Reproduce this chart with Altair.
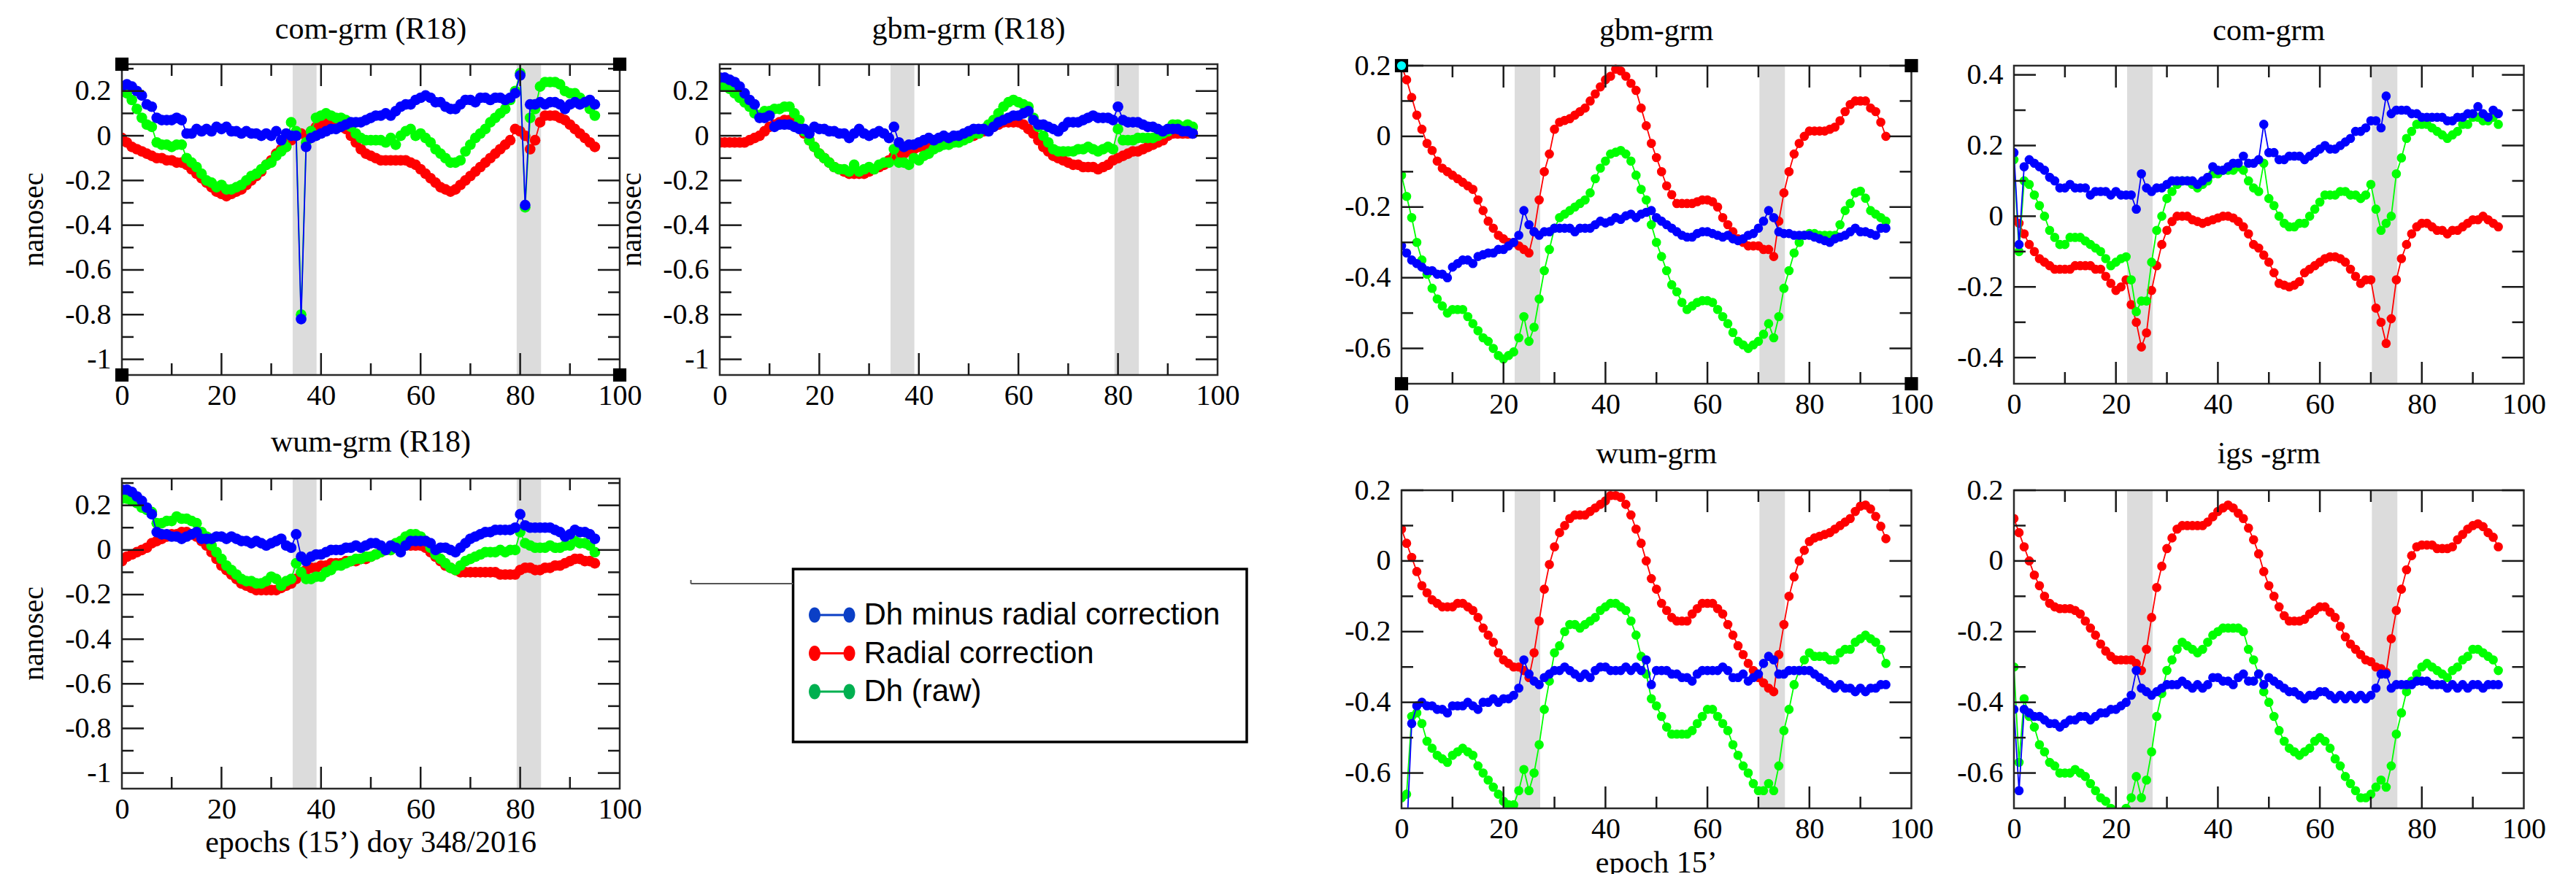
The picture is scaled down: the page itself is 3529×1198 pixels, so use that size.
import altair as alt
import pandas as pd

SERIF = "Liberation Serif, Times New Roman, serif"
SANS = "Liberation Sans, Arial, sans-serif"

EPOCH = list(range(96))

# ---------------- left figure (R18) ----------------
P1_BLUE = [0.22, 0.23, 0.22, 0.20, 0.18, 0.14, 0.13, 0.08, 0.07, 0.07,
           0.07, 0.08, 0.07, 0.01, 0.01, 0.03, 0.02, 0.03, 0.02, 0.04,
           0.03, 0.04, 0.02, 0.02, 0.01, 0.02, 0.01, 0.01, 0.00, 0.01,
           0.00, 0.02, -0.02, 0.01, 0.00, 0.00, -0.82, -0.05, -0.01, 0.00,
           0.01, 0.02, 0.03, 0.03, 0.04, 0.05, 0.06, 0.06, 0.06, 0.07,
           0.08, 0.09, 0.09, 0.10, 0.09, 0.11, 0.13, 0.14, 0.14, 0.16,
           0.17, 0.18, 0.17, 0.15, 0.15, 0.13, 0.12, 0.12, 0.14, 0.16,
           0.16, 0.15, 0.17, 0.17, 0.16, 0.17, 0.17, 0.16, 0.17, 0.19,
           0.27, -0.31, 0.14, 0.14, 0.15, 0.14, 0.15, 0.15, 0.14, 0.12,
           0.14, 0.15, 0.14, 0.15, 0.16, 0.14]
P1_RED = [-0.01, -0.03, -0.05, -0.06, -0.07, -0.08, -0.09, -0.10, -0.10, -0.11,
          -0.11, -0.12, -0.12, -0.13, -0.15, -0.17, -0.19, -0.21, -0.23, -0.25,
          -0.26, -0.27, -0.26, -0.25, -0.24, -0.22, -0.20, -0.18, -0.16, -0.13,
          -0.11, -0.08, -0.06, -0.05, -0.02, 0.00, 0.01, 0.00, 0.02, 0.04,
          0.05, 0.06, 0.06, 0.05, 0.04, 0.03, 0.00, -0.03, -0.06, -0.08,
          -0.09, -0.10, -0.11, -0.11, -0.11, -0.11, -0.11, -0.11, -0.12, -0.13,
          -0.15, -0.17, -0.19, -0.21, -0.23, -0.24, -0.25, -0.24, -0.22, -0.20,
          -0.18, -0.16, -0.14, -0.12, -0.10, -0.08, -0.06, -0.04, -0.02, 0.03,
          0.02, 0.00, -0.06, -0.02, 0.06, 0.09, 0.09, 0.09, 0.08, 0.07,
          0.05, 0.03, 0.01, -0.01, -0.03, -0.05]
P1_GREEN = [0.21, 0.19, 0.16, 0.12, 0.08, 0.05, 0.04, -0.03, -0.04, -0.04,
            -0.05, -0.04, -0.04, -0.10, -0.12, -0.14, -0.17, -0.20, -0.21, -0.23,
            -0.22, -0.24, -0.24, -0.23, -0.22, -0.20, -0.18, -0.17, -0.15, -0.13,
            -0.12, -0.09, -0.07, -0.05, 0.06, 0.02, -0.80, -0.03, 0.02, 0.08,
            0.09, 0.10, 0.09, 0.08, 0.08, 0.07, 0.04, 0.01, -0.01, -0.02,
            -0.02, -0.02, -0.02, -0.03, -0.01, -0.04, 0.00, 0.02, 0.03, 0.00,
            0.01, -0.01, -0.03, -0.06, -0.08, -0.10, -0.12, -0.12, -0.11, -0.07,
            -0.04, -0.01, 0.01, 0.03, 0.06, 0.08, 0.10, 0.12, 0.16, 0.20,
            0.28, -0.32, 0.08, 0.12, 0.22, 0.24, 0.24, 0.24, 0.23, 0.20,
            0.19, 0.19, 0.17, 0.15, 0.12, 0.09]

P2_BLUE = [0.26, 0.26, 0.25, 0.24, 0.22, 0.19, 0.16, 0.14, 0.08, 0.08,
           0.09, 0.04, 0.05, 0.05, 0.05, 0.04, 0.03, 0.03, 0.01, 0.04,
           0.03, 0.03, 0.02, 0.02, 0.01, 0.01, -0.01, 0.01, 0.03, 0.01,
           0.00, 0.01, 0.02, 0.01, -0.01, 0.04, -0.03, -0.05, -0.04, -0.04,
           -0.03, -0.02, -0.01, -0.02, -0.01, 0.00, -0.01, 0.00, 0.00, 0.01,
           0.02, 0.03, 0.03, 0.03, 0.02, 0.04, 0.06, 0.07, 0.08, 0.09,
           0.09, 0.10, 0.11, 0.07, 0.05, 0.05, 0.04, 0.03, 0.02, 0.04,
           0.06, 0.06, 0.06, 0.07, 0.08, 0.09, 0.08, 0.08, 0.08, 0.07,
           0.13, 0.07, 0.06, 0.06, 0.06, 0.05, 0.04, 0.04, 0.03, 0.02,
           0.03, 0.03, 0.03, 0.02, 0.02, 0.01]
P2_RED = [-0.03, -0.03, -0.03, -0.03, -0.03, -0.03, -0.02, -0.01, 0.00, 0.02,
          0.04, 0.05, 0.06, 0.07, 0.07, 0.06, 0.04, 0.01, -0.02, -0.05,
          -0.08, -0.10, -0.12, -0.14, -0.15, -0.16, -0.17, -0.17, -0.17, -0.17,
          -0.16, -0.15, -0.14, -0.13, -0.11, -0.09, -0.08, -0.08, -0.07, -0.06,
          -0.05, -0.05, -0.04, -0.04, -0.03, -0.03, -0.02, -0.02, -0.01, -0.01,
          0.00, 0.00, 0.01, 0.02, 0.03, 0.04, 0.05, 0.06, 0.06, 0.06,
          0.06, 0.05, 0.03, 0.01, -0.02, -0.05, -0.07, -0.09, -0.10, -0.11,
          -0.12, -0.13, -0.13, -0.14, -0.14, -0.14, -0.15, -0.14, -0.13, -0.11,
          -0.10, -0.09, -0.08, -0.07, -0.07, -0.06, -0.05, -0.04, -0.03, -0.02,
          0.00, 0.01, 0.01, 0.01, 0.01, 0.01]
P2_GREEN = [0.22, 0.22, 0.21, 0.19, 0.17, 0.15, 0.13, 0.10, 0.09, 0.11,
            0.11, 0.12, 0.12, 0.13, 0.13, 0.10, 0.07, 0.02, -0.02, -0.05,
            -0.08, -0.10, -0.12, -0.14, -0.15, -0.15, -0.16, -0.13, -0.16, -0.15,
            -0.14, -0.15, -0.13, -0.12, -0.12, -0.06, -0.12, -0.12, -0.13, -0.10,
            -0.11, -0.09, -0.08, -0.06, -0.05, -0.04, -0.04, -0.03, -0.03, -0.02,
            -0.01, 0.01, 0.01, 0.03, 0.05, 0.07, 0.10, 0.13, 0.15, 0.16,
            0.15, 0.14, 0.13, 0.08, 0.04, 0.00, -0.03, -0.06, -0.07, -0.07,
            -0.07, -0.07, -0.06, -0.06, -0.05, -0.06, -0.07, -0.06, -0.05, -0.06,
            0.03, -0.02, -0.02, -0.02, -0.01, -0.01, -0.01, -0.01, 0.00, 0.01,
            0.02, 0.05, 0.05, 0.04, 0.05, 0.04]

P3_BLUE = [0.27, 0.27, 0.26, 0.24, 0.22, 0.19, 0.16, 0.08, 0.07, 0.07,
           0.06, 0.06, 0.05, 0.06, 0.07, 0.08, 0.05, 0.05, 0.05, 0.06,
           0.06, 0.05, 0.06, 0.05, 0.04, 0.04, 0.03, 0.04, 0.03, 0.02,
           0.03, 0.04, 0.05, 0.02, 0.01, 0.07, -0.03, -0.05, -0.03, -0.02,
           -0.02, -0.01, 0.00, 0.00, 0.00, 0.01, 0.01, 0.02, 0.01, 0.02,
           0.03, 0.03, 0.02, 0.00, 0.02, 0.01, -0.01, 0.02, 0.04, 0.04,
           0.04, 0.04, 0.03, 0.00, 0.01, 0.01, 0.00, -0.01, 0.01, 0.03,
           0.05, 0.06, 0.07, 0.08, 0.08, 0.09, 0.09, 0.09, 0.09, 0.10,
           0.16, 0.11, 0.10, 0.10, 0.10, 0.10, 0.10, 0.09, 0.08, 0.06,
           0.07, 0.09, 0.08, 0.08, 0.07, 0.05]
P3_RED = [-0.05, -0.03, -0.02, -0.01, 0.00, 0.01, 0.03, 0.04, 0.05, 0.06,
          0.07, 0.07, 0.08, 0.08, 0.07, 0.06, 0.04, 0.02, -0.01, -0.04,
          -0.07, -0.09, -0.11, -0.13, -0.15, -0.16, -0.17, -0.18, -0.18, -0.18,
          -0.18, -0.18, -0.17, -0.16, -0.15, -0.13, -0.11, -0.09, -0.08, -0.08,
          -0.07, -0.07, -0.06, -0.06, -0.06, -0.05, -0.05, -0.05, -0.04, -0.04,
          -0.03, -0.02, -0.01, 0.00, 0.00, 0.01, 0.01, 0.02, 0.02, 0.02,
          0.02, 0.01, -0.01, -0.03, -0.05, -0.07, -0.08, -0.09, -0.10, -0.10,
          -0.10, -0.10, -0.10, -0.10, -0.10, -0.10, -0.11, -0.11, -0.11, -0.11,
          -0.09, -0.08, -0.08, -0.09, -0.09, -0.08, -0.08, -0.07, -0.07, -0.06,
          -0.05, -0.04, -0.04, -0.05, -0.05, -0.06]
P3_GREEN = [0.23, 0.23, 0.22, 0.21, 0.19, 0.18, 0.17, 0.12, 0.12, 0.13,
            0.13, 0.15, 0.14, 0.14, 0.13, 0.12, 0.08, 0.06, 0.02, -0.01,
            -0.04, -0.07, -0.09, -0.11, -0.13, -0.14, -0.14, -0.15, -0.15, -0.14,
            -0.12, -0.13, -0.16, -0.14, -0.13, -0.06, -0.10, -0.13, -0.13, -0.12,
            -0.12, -0.10, -0.09, -0.07, -0.07, -0.06, -0.05, -0.04, -0.04, -0.03,
            -0.03, -0.02, -0.01, 0.00, 0.00, 0.03, 0.04, 0.06, 0.07, 0.07,
            0.06, 0.04, 0.01, -0.02, -0.04, -0.06, -0.08, -0.09, -0.07, -0.05,
            -0.04, -0.03, -0.02, -0.01, -0.01, -0.01, 0.00, -0.01, 0.00, 0.00,
            0.08, 0.03, 0.02, 0.01, 0.01, 0.01, 0.02, 0.01, 0.01, 0.02,
            0.02, 0.04, 0.03, 0.03, 0.02, -0.01]

# ---------------- right figure ----------------
P4_BLUE = [-0.31, -0.33, -0.35, -0.36, -0.37, -0.38, -0.38, -0.39, -0.39, -0.40,
           -0.37, -0.36, -0.35, -0.35, -0.36, -0.34, -0.335, -0.33, -0.33, -0.32,
           -0.32, -0.31, -0.30, -0.28, -0.21, -0.25, -0.27, -0.28, -0.27, -0.27,
           -0.26, -0.26, -0.26, -0.26, -0.27, -0.26, -0.26, -0.26, -0.25, -0.24,
           -0.245, -0.24, -0.23, -0.235, -0.225, -0.22, -0.23, -0.22, -0.215, -0.21,
           -0.23, -0.24, -0.25, -0.26, -0.27, -0.28, -0.285, -0.285, -0.275, -0.27,
           -0.27, -0.275, -0.28, -0.285, -0.28, -0.29, -0.295, -0.29, -0.28, -0.275,
           -0.26, -0.24, -0.21, -0.23, -0.27, -0.275, -0.275, -0.28, -0.28, -0.28,
           -0.28, -0.285, -0.29, -0.295, -0.30, -0.29, -0.285, -0.28, -0.27, -0.26,
           -0.27, -0.27, -0.275, -0.28, -0.26, -0.26]
P4_RED = [0.20, 0.16, 0.11, 0.06, 0.02, -0.02, -0.04, -0.07, -0.09, -0.10,
          -0.11, -0.12, -0.13, -0.14, -0.15, -0.18, -0.21, -0.24, -0.26, -0.28,
          -0.29, -0.30, -0.30, -0.31, -0.32, -0.33, -0.27, -0.18, -0.10, -0.05,
          0.02, 0.04, 0.045, 0.05, 0.06, 0.07, 0.08, 0.10, 0.12, 0.14,
          0.16, 0.17, 0.19, 0.185, 0.17, 0.15, 0.13, 0.08, 0.03, -0.02,
          -0.06, -0.10, -0.14, -0.165, -0.19, -0.19, -0.19, -0.19, -0.185, -0.18,
          -0.18, -0.185, -0.20, -0.23, -0.25, -0.27, -0.29, -0.30, -0.31, -0.31,
          -0.31, -0.32, -0.32, -0.34, -0.24, -0.16, -0.10, -0.05, -0.02, 0.00,
          0.015, 0.015, 0.015, 0.015, 0.02, 0.026, 0.044, 0.07, 0.09, 0.10,
          0.10, 0.10, 0.08, 0.07, 0.04, 0.00]
P4_GREEN = [-0.11, -0.17, -0.23, -0.30, -0.35, -0.39, -0.43, -0.46, -0.48, -0.50,
            -0.49, -0.49, -0.49, -0.51, -0.53, -0.55, -0.57, -0.58, -0.60, -0.62,
            -0.63, -0.62, -0.61, -0.57, -0.51, -0.58, -0.54, -0.46, -0.38, -0.32,
            -0.26, -0.23, -0.22, -0.21, -0.20, -0.19, -0.18, -0.16, -0.12, -0.09,
            -0.07, -0.05, -0.045, -0.04, -0.05, -0.07, -0.11, -0.15, -0.18, -0.25,
            -0.30, -0.34, -0.38, -0.42, -0.44, -0.47, -0.49, -0.48, -0.47, -0.465,
            -0.465, -0.47, -0.49, -0.51, -0.53, -0.555, -0.58, -0.59, -0.60, -0.59,
            -0.58, -0.56, -0.53, -0.57, -0.51, -0.43, -0.38, -0.33, -0.30, -0.28,
            -0.275, -0.275, -0.28, -0.28, -0.28, -0.28, -0.25, -0.21, -0.19, -0.16,
            -0.155, -0.175, -0.21, -0.22, -0.23, -0.24]

P5_BLUE = [0.18, -0.08, 0.14, 0.16, 0.15, 0.14, 0.13, 0.11, 0.10, 0.08,
           0.08, 0.09, 0.08, 0.08, 0.08, 0.06, 0.07, 0.07, 0.07, 0.06,
           0.07, 0.06, 0.06, 0.06, 0.02, 0.12, 0.08, 0.07, 0.08, 0.08,
           0.09, 0.10, 0.10, 0.10, 0.10, 0.10, 0.09, 0.10, 0.11, 0.14,
           0.13, 0.13, 0.14, 0.15, 0.15, 0.17, 0.15, 0.15, 0.16, 0.26,
           0.18, 0.18, 0.16, 0.16, 0.17, 0.17, 0.17, 0.16, 0.17, 0.18,
           0.19, 0.20, 0.19, 0.19, 0.20, 0.21, 0.22, 0.24, 0.24, 0.25,
           0.27, 0.27, 0.25, 0.34, 0.29, 0.30, 0.30, 0.30, 0.29, 0.29,
           0.28, 0.28, 0.28, 0.28, 0.28, 0.27, 0.27, 0.28, 0.28, 0.29,
           0.29, 0.31, 0.29, 0.28, 0.30, 0.29]
P5_RED = [-0.01, -0.02, -0.05, -0.08, -0.10, -0.12, -0.13, -0.14, -0.15, -0.15,
          -0.15, -0.15, -0.14, -0.14, -0.14, -0.14, -0.15, -0.15, -0.17, -0.19,
          -0.21, -0.20, -0.18, -0.25, -0.30, -0.37, -0.33, -0.21, -0.14, -0.08,
          -0.04, -0.015, 0.00, 0.00, 0.00, -0.01, -0.015, -0.02, -0.015, -0.01,
          -0.005, 0.00, 0.00, -0.005, -0.015, -0.03, -0.05, -0.08, -0.09, -0.11,
          -0.13, -0.16, -0.19, -0.195, -0.20, -0.195, -0.185, -0.16, -0.15, -0.14,
          -0.13, -0.12, -0.115, -0.115, -0.12, -0.13, -0.15, -0.17, -0.19, -0.18,
          -0.18, -0.26, -0.30, -0.36, -0.29, -0.18, -0.12, -0.08, -0.05, -0.03,
          -0.02, -0.02, -0.03, -0.04, -0.04, -0.05, -0.04, -0.04, -0.03, -0.02,
          -0.01, -0.01, 0.00, -0.01, -0.02, -0.03]
P5_GREEN = [0.16, -0.10, 0.10, 0.09, 0.06, 0.03, 0.00, -0.04, -0.06, -0.08,
            -0.08, -0.06, -0.06, -0.06, -0.07, -0.08, -0.09, -0.10, -0.12, -0.14,
            -0.13, -0.12, -0.115, -0.18, -0.27, -0.24, -0.24, -0.13, -0.04, 0.00,
            0.05, 0.07, 0.09, 0.10, 0.10, 0.09, 0.08, 0.09, 0.10, 0.12,
            0.12, 0.13, 0.13, 0.13, 0.14, 0.13, 0.10, 0.08, 0.07, 0.15,
            0.05, 0.03, 0.00, -0.02, -0.03, -0.03, -0.02, -0.02, 0.00, 0.02,
            0.04, 0.06, 0.06, 0.06, 0.07, 0.07, 0.06, 0.06, 0.05, 0.06,
            0.09, 0.02, -0.04, -0.02, 0.00, 0.12, 0.165, 0.22, 0.24, 0.26,
            0.26, 0.26, 0.25, 0.24, 0.23, 0.22, 0.23, 0.24, 0.26, 0.26,
            0.28, 0.28, 0.27, 0.27, 0.28, 0.26]

P6_BLUE = [-0.80, -0.78, -0.46, -0.41, -0.40, -0.41, -0.41, -0.42, -0.42, -0.43,
           -0.41, -0.41, -0.41, -0.40, -0.41, -0.42, -0.40, -0.40, -0.39, -0.40,
           -0.39, -0.39, -0.38, -0.36, -0.28, -0.32, -0.34, -0.35, -0.33, -0.32,
           -0.31, -0.31, -0.30, -0.31, -0.32, -0.33, -0.32, -0.33, -0.31, -0.30,
           -0.30, -0.31, -0.31, -0.31, -0.30, -0.31, -0.30, -0.31, -0.28, -0.35,
           -0.31, -0.31, -0.31, -0.32, -0.32, -0.33, -0.33, -0.34, -0.32, -0.31,
           -0.31, -0.31, -0.31, -0.30, -0.31, -0.33, -0.33, -0.32, -0.34, -0.33,
           -0.32, -0.29, -0.27, -0.28, -0.32, -0.32, -0.31, -0.31, -0.31, -0.31,
           -0.31, -0.32, -0.33, -0.34, -0.35, -0.36, -0.35, -0.36, -0.36, -0.37,
           -0.36, -0.37, -0.36, -0.36, -0.35, -0.35]
P6_RED = [0.09, 0.05, 0.01, -0.03, -0.07, -0.09, -0.11, -0.12, -0.13, -0.13,
          -0.13, -0.12, -0.12, -0.13, -0.14, -0.16, -0.19, -0.21, -0.23, -0.26,
          -0.28, -0.29, -0.30, -0.30, -0.31, -0.33, -0.26, -0.17, -0.08, -0.01,
          0.04, 0.08, 0.10, 0.12, 0.13, 0.13, 0.13, 0.14, 0.15, 0.16,
          0.17, 0.185, 0.185, 0.18, 0.16, 0.13, 0.09, 0.05, 0.00, -0.05,
          -0.08, -0.12, -0.14, -0.16, -0.17, -0.17, -0.17, -0.15, -0.135, -0.12,
          -0.12, -0.12, -0.135, -0.15, -0.18, -0.21, -0.24, -0.265, -0.29, -0.31,
          -0.33, -0.345, -0.36, -0.37, -0.265, -0.18, -0.10, -0.045, 0.00, 0.03,
          0.055, 0.065, 0.07, 0.075, 0.08, 0.09, 0.10, 0.11, 0.12, 0.14,
          0.155, 0.158, 0.147, 0.126, 0.098, 0.063]
P6_GREEN = [-0.67, -0.66, -0.44, -0.43, -0.46, -0.51, -0.53, -0.55, -0.56, -0.57,
            -0.55, -0.54, -0.53, -0.54, -0.55, -0.58, -0.60, -0.62, -0.64, -0.66,
            -0.68, -0.69, -0.69, -0.65, -0.59, -0.65, -0.60, -0.52, -0.42, -0.34,
            -0.26, -0.24, -0.20, -0.18, -0.18, -0.19, -0.18, -0.17, -0.16, -0.14,
            -0.13, -0.12, -0.12, -0.13, -0.14, -0.17, -0.21, -0.27, -0.32, -0.39,
            -0.41, -0.44, -0.47, -0.49, -0.49, -0.49, -0.49, -0.48, -0.46, -0.44,
            -0.42, -0.42, -0.44, -0.46, -0.48, -0.52, -0.55, -0.58, -0.60, -0.63,
            -0.65, -0.65, -0.63, -0.65, -0.58, -0.48, -0.42, -0.35, -0.31, -0.28,
            -0.26, -0.27, -0.27, -0.27, -0.28, -0.28, -0.26, -0.25, -0.25, -0.23,
            -0.22, -0.21, -0.22, -0.23, -0.25, -0.29]

P7_BLUE = [-0.42, -0.65, -0.42, -0.43, -0.44, -0.44, -0.45, -0.46, -0.46, -0.47,
           -0.46, -0.45, -0.45, -0.44, -0.44, -0.45, -0.44, -0.43, -0.43, -0.42,
           -0.42, -0.41, -0.40, -0.38, -0.31, -0.36, -0.37, -0.38, -0.37, -0.36,
           -0.35, -0.35, -0.35, -0.34, -0.35, -0.36, -0.35, -0.36, -0.35, -0.33,
           -0.33, -0.34, -0.34, -0.35, -0.33, -0.32, -0.34, -0.34, -0.32, -0.35,
           -0.33, -0.34, -0.35, -0.36, -0.37, -0.37, -0.38, -0.39, -0.38, -0.38,
           -0.37, -0.37, -0.38, -0.39, -0.38, -0.39, -0.38, -0.39, -0.38, -0.39,
           -0.38, -0.36, -0.32, -0.32, -0.36, -0.35, -0.35, -0.35, -0.35, -0.34,
           -0.34, -0.34, -0.35, -0.35, -0.35, -0.36, -0.35, -0.36, -0.35, -0.36,
           -0.35, -0.35, -0.36, -0.35, -0.35, -0.35]
P7_RED = [0.12, 0.08, 0.04, 0.00, -0.04, -0.07, -0.10, -0.12, -0.13, -0.135,
          -0.135, -0.135, -0.14, -0.15, -0.17, -0.19, -0.21, -0.235, -0.255, -0.27,
          -0.28, -0.28, -0.28, -0.28, -0.29, -0.31, -0.25, -0.16, -0.075, -0.015,
          0.035, 0.065, 0.09, 0.10, 0.10, 0.10, 0.10, 0.10, 0.11, 0.125,
          0.14, 0.15, 0.158, 0.15, 0.135, 0.12, 0.093, 0.06, 0.02, -0.03,
          -0.07, -0.10, -0.13, -0.155, -0.17, -0.17, -0.17, -0.165, -0.15, -0.14,
          -0.13, -0.13, -0.145, -0.16, -0.185, -0.215, -0.235, -0.25, -0.265, -0.28,
          -0.285, -0.30, -0.305, -0.315, -0.22, -0.14, -0.08, -0.025, 0.015, 0.04,
          0.045, 0.045, 0.045, 0.035, 0.035, 0.035, 0.04, 0.06, 0.075, 0.09,
          0.10, 0.105, 0.097, 0.08, 0.067, 0.04]
P7_GREEN = [-0.30, -0.57, -0.39, -0.44, -0.47, -0.52, -0.54, -0.57, -0.58, -0.60,
            -0.60, -0.60, -0.59, -0.60, -0.61, -0.63, -0.65, -0.67, -0.68, -0.70,
            -0.74, -0.74, -0.70, -0.67, -0.61, -0.67, -0.62, -0.54, -0.44, -0.375,
            -0.31, -0.28, -0.25, -0.23, -0.24, -0.25, -0.26, -0.25, -0.23, -0.21,
            -0.20, -0.19, -0.19, -0.19, -0.19, -0.20, -0.25, -0.28, -0.32, -0.37,
            -0.40, -0.44, -0.48, -0.51, -0.53, -0.54, -0.55, -0.54, -0.53, -0.51,
            -0.50, -0.51, -0.53, -0.56, -0.58, -0.61, -0.63, -0.65, -0.67, -0.67,
            -0.66, -0.64, -0.62, -0.64, -0.58, -0.49, -0.43, -0.37, -0.34, -0.32,
            -0.30, -0.29, -0.30, -0.31, -0.32, -0.33, -0.31, -0.30, -0.28, -0.27,
            -0.25, -0.25, -0.26, -0.27, -0.28, -0.31]

LEGEND_LABELS = ["Dh minus radial correction", "Radial correction", "Dh (raw)"]
LEGEND_COLORS = ["#0b3fc6", "#ff0000", "#00b050"]
PLOT_COLORS = {"red": "#ff0000", "green": "#00ff00", "blue": "#0000ff"}

BANDS_LEFT = [[34.3, 39.1], [79.3, 84.2]]
BANDS_RIGHT = [[22.2, 27.2], [70.2, 75.2]]

X_LABELS = [0, 20, 40, 60, 80, 100]
X_MAJOR = [20, 40, 60, 80]
X_MINOR = [10, 30, 50, 70, 90]

YL_DOMAIN = [-1.07, 0.32]
YL_MAJOR = [0.2, 0.0, -0.2, -0.4, -0.6, -0.8, -1.0]
YL_MINOR = [0.3, 0.1, -0.1, -0.3, -0.5, -0.7, -0.9]
YR_DOMAIN = [-0.7, 0.2]
YR_MAJOR = [0.2, 0.0, -0.2, -0.4, -0.6]
YR_MINOR = [0.1, -0.1, -0.3, -0.5]
YC_DOMAIN = [-0.474, 0.426]
YC_MAJOR = [0.4, 0.2, 0.0, -0.2, -0.4]
YC_MINOR = [0.3, 0.1, -0.1, -0.3]

ONE = pd.DataFrame({"k": [0]})
TICK = "#1a1a1a"
MAJ, MIN_ = 30, 16


def panel(title, blue, red, green, ydom, ymaj, ymin_, bands, w, h, plot_w,
          y_top, y_bot, title_dy, msize, ytitle=False, xtitle=None,
          xtitle_dy=74, corners=False, cyan=False, anchor=False):
    xs = alt.Scale(domain=[0, 100], range=[0, plot_w], nice=False, zero=False)
    ys = alt.Scale(domain=ydom, range=[y_bot, y_top], nice=False, zero=False)
    ax_x = alt.Axis(values=X_LABELS, title=None, labelPadding=8, format="d")
    ax_y = alt.Axis(values=ymaj, title=None, labelPadding=15,
                    labelExpr="datum.value + ''")

    def X():
        return alt.X("x:Q", scale=xs, axis=ax_x)

    def Y():
        return alt.Y("y:Q", scale=ys, axis=ax_y)

    layers = []
    bdf = pd.DataFrame({"x": [b[0] for b in bands], "x2": [b[1] for b in bands],
                        "y": [ydom[0]] * len(bands), "y2": [ydom[1]] * len(bands)})
    layers.append(alt.Chart(bdf).mark_rect(color="#dcdcdc").encode(
        x=X(), x2=alt.X2("x2"), y=Y(), y2=alt.Y2("y2")))

    df = pd.DataFrame({"x": EPOCH * 3, "y": red + green + blue,
                       "s": ["red"] * 96 + ["green"] * 96 + ["blue"] * 96})
    for s in ["red", "green", "blue"]:
        base = alt.Chart(df).transform_filter(alt.datum.s == s)
        layers.append(base.mark_line(color=PLOT_COLORS[s], strokeWidth=1.8,
                                     clip=True).encode(x=X(), y=Y()))
        layers.append(base.mark_circle(color=PLOT_COLORS[s], size=msize, opacity=1,
                                       clip=True).encode(x=X(), y=Y()))

    fdf = pd.DataFrame({"x": [0], "x2": [100], "y": [ydom[0]], "y2": [ydom[1]]})
    layers.append(alt.Chart(fdf).mark_rect(filled=False, color="#2a2a2a",
                                           strokeWidth=2.5).encode(
        x=X(), x2=alt.X2("x2"), y=Y(), y2=alt.Y2("y2")))

    for vals, ln in ((X_MAJOR, MAJ), (X_MINOR, MIN_)):
        bt = pd.DataFrame({"x": vals, "y": [ydom[0]] * len(vals), "y2": [ydom[0]] * len(vals)})
        tp = pd.DataFrame({"x": vals, "y": [ydom[1]] * len(vals), "y2": [ydom[1]] * len(vals)})
        layers.append(alt.Chart(bt).mark_rule(color=TICK, strokeWidth=2.5, y2Offset=-ln)
                      .encode(x=X(), y=Y(), y2=alt.Y2("y2")))
        layers.append(alt.Chart(tp).mark_rule(color=TICK, strokeWidth=2.5, y2Offset=ln)
                      .encode(x=X(), y=Y(), y2=alt.Y2("y2")))
    for vals, ln in ((ymaj, MAJ), (ymin_, MIN_)):
        lf = pd.DataFrame({"x": [0] * len(vals), "x2": [0] * len(vals), "y": vals})
        rt = pd.DataFrame({"x": [100] * len(vals), "x2": [100] * len(vals), "y": vals})
        layers.append(alt.Chart(lf).mark_rule(color=TICK, strokeWidth=2.5, x2Offset=ln)
                      .encode(x=X(), x2=alt.X2("x2"), y=Y()))
        layers.append(alt.Chart(rt).mark_rule(color=TICK, strokeWidth=2.5, x2Offset=-ln)
                      .encode(x=X(), x2=alt.X2("x2"), y=Y()))

    if corners:
        cdf = pd.DataFrame({"x": [0, 100, 0, 100],
                            "y": [ydom[0], ydom[0], ydom[1], ydom[1]]})
        layers.append(alt.Chart(cdf).mark_square(size=330, color="black", opacity=1)
                      .encode(x=X(), y=Y()))
    if cyan:
        c1 = pd.DataFrame({"x": [EPOCH[0]], "y": [red[0]]})
        layers.append(alt.Chart(c1).mark_circle(color="#00ffff", size=150, opacity=1)
                      .encode(x=X(), y=Y()))

    layers.append(alt.Chart(ONE).mark_text(text=title, font=SERIF, fontSize=42,
                                           align="center", baseline="middle",
                                           color="black")
                  .encode(x=alt.value(plot_w / 2), y=alt.value(title_dy)))
    if ytitle:
        layers.append(alt.Chart(ONE).mark_text(text="nanosec", font=SERIF, fontSize=40,
                                               angle=270, align="center",
                                               baseline="middle", color="black")
                      .encode(x=alt.value(-120), y=alt.value((y_top + y_bot) / 2)))
    if xtitle:
        layers.append(alt.Chart(ONE).mark_text(text=xtitle, font=SERIF, fontSize=42,
                                               align="center", baseline="middle",
                                               color="black")
                      .encode(x=alt.value(plot_w / 2), y=alt.value(y_bot + xtitle_dy)))
    if anchor:
        layers.append(alt.Chart(ONE).mark_rule(color="white", strokeWidth=1)
                      .encode(x=alt.value(-158), x2=alt.value(-157), y=alt.value(-78.5)))
    return alt.layer(*layers).properties(width=w, height=h)


LEFT_SIZE = 215
RIGHT_SIZE = 160

p1 = panel("com-grm (R18)", P1_BLUE, P1_RED, P1_GREEN, YL_DOMAIN, YL_MAJOR, YL_MINOR,
           BANDS_LEFT, 682, 426, 682, 0, 426, -48, LEFT_SIZE, ytitle=True, corners=True,
           anchor=True)
p2 = panel("gbm-grm (R18)", P2_BLUE, P2_RED, P2_GREEN, YL_DOMAIN, YL_MAJOR, YL_MINOR,
           BANDS_LEFT, 682, 426, 682, 0, 426, -48, LEFT_SIZE, ytitle=True)
p3 = panel("wum-grm (R18)", P3_BLUE, P3_RED, P3_GREEN, YL_DOMAIN, YL_MAJOR, YL_MINOR,
           BANDS_LEFT, 682, 425, 682, 0, 425, -50, LEFT_SIZE, ytitle=True,
           xtitle="epochs (15\u2019) doy 348/2016", xtitle_dy=74)
p4 = panel("gbm-grm", P4_BLUE, P4_RED, P4_GREEN, YR_DOMAIN, YR_MAJOR, YR_MINOR,
           BANDS_RIGHT, 701.5, 438, 698.5, 2, 438, -46, RIGHT_SIZE, corners=True, cyan=True)
p5 = panel("com-grm", P5_BLUE, P5_RED, P5_GREEN, YC_DOMAIN, YC_MAJOR, YC_MINOR,
           BANDS_RIGHT, 698.5, 438, 698.5, 2, 438, -46, RIGHT_SIZE)
p6 = panel("wum-grm", P6_BLUE, P6_RED, P6_GREEN, YR_DOMAIN, YR_MAJOR, YR_MINOR,
           BANDS_RIGHT, 701.5, 452, 698.5, 16, 452, -34, RIGHT_SIZE,
           xtitle="epoch 15\u2019", xtitle_dy=75)
p7 = panel("igs -grm", P7_BLUE, P7_RED, P7_GREEN, YR_DOMAIN, YR_MAJOR, YR_MINOR,
           BANDS_RIGHT, 698.5, 452, 698.5, 16, 452, -34, RIGHT_SIZE)

# ---------------- legend cell ----------------
ELLIPSE = "M 0 -1 A 0.76 1 0 1 1 0 1 A 0.76 1 0 1 1 0 -1 Z"
leg_df = pd.DataFrame({"label": LEGEND_LABELS})
ly = alt.Y("label:N", sort=LEGEND_LABELS,
           scale=alt.Scale(type="point", range=[187, 292], padding=0), axis=None)
lc = alt.Color("label:N", sort=LEGEND_LABELS,
               scale=alt.Scale(domain=LEGEND_LABELS, range=LEGEND_COLORS), legend=None)
leg_box = alt.Chart(ONE).mark_rect(filled=False, color="black", strokeWidth=3.5).encode(
    x=alt.value(100.5), x2=alt.value(722), y=alt.value(124), y2=alt.value(361))
leader = alt.Chart(ONE).mark_rule(color="#555555", strokeWidth=2).encode(
    x=alt.value(-39.5), x2=alt.value(100.5), y=alt.value(144))
hook = alt.Chart(ONE).mark_rule(color="#555555", strokeWidth=2).encode(
    x=alt.value(-39.5), y=alt.value(139), y2=alt.value(144))
segs = alt.Chart(leg_df).mark_rule(strokeWidth=3).encode(
    x=alt.value(130), x2=alt.value(177.5), y=ly, color=lc)
dot_l = alt.Chart(leg_df).mark_point(shape=ELLIPSE, size=441, filled=True, opacity=1).encode(
    x=alt.value(130), y=ly, color=lc)
dot_r = alt.Chart(leg_df).mark_point(shape=ELLIPSE, size=441, filled=True, opacity=1).encode(
    x=alt.value(177.5), y=ly, color=lc)
texts = alt.Chart(leg_df).mark_text(font=SANS, fontSize=42, align="left",
                                    baseline="middle", color="black").encode(
    x=alt.value(197.5), y=ly, text="label:N")
legend = alt.layer(leg_box, leader, hook, segs, dot_l, dot_r, texts).properties(
    width=797, height=400)

chart = alt.concat(p1, p2, p4, p5, p3, legend, p6, p7, columns=4,
                   spacing={"row": 130, "column": 137}, bounds="flush").properties(
    padding=0
).configure_view(stroke="transparent").configure_axis(
    domain=False, ticks=False, grid=False, labelFont=SERIF, labelFontSize=40,
    labelColor="black", labelFlush=False, labelOverlap=False, labelBound=False
)

chart.save("out.html", embed_options={"renderer": "svg", "actions": False})
